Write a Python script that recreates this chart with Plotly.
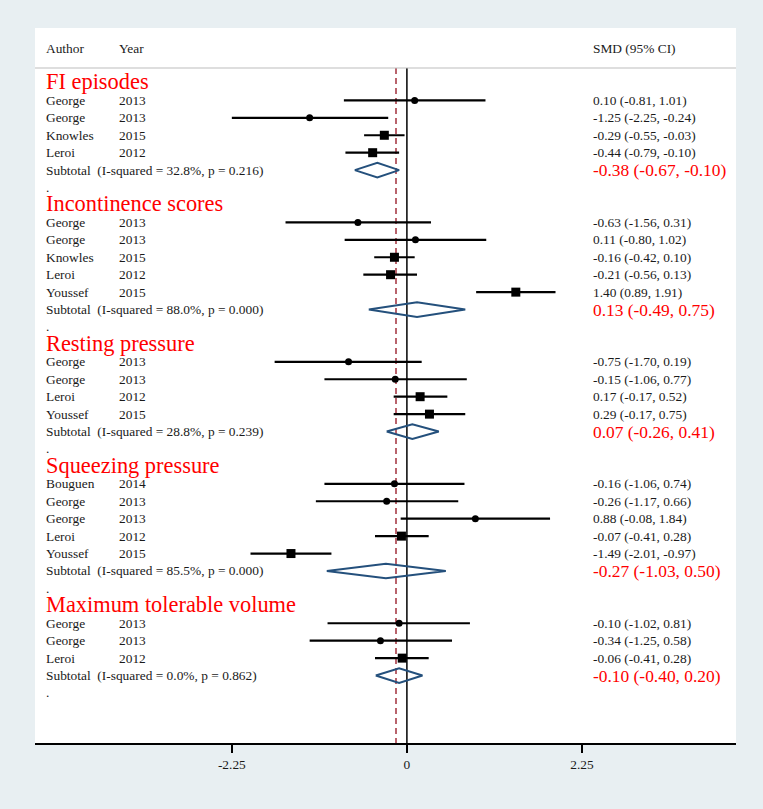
import plotly.graph_objects as go

# ---------------- data ----------------
groups = ["FI episodes", "Incontinence scores", "Resting pressure",
          "Squeezing pressure", "Maximum tolerable volume"]
authors = [
    ["George", "George", "Knowles", "Leroi"],
    ["George", "George", "Knowles", "Leroi", "Youssef"],
    ["George", "George", "Leroi", "Youssef"],
    ["Bouguen", "George", "George", "Leroi", "Youssef"],
    ["George", "George", "Leroi"],
]
years = [
    ["2013", "2013", "2015", "2012"],
    ["2013", "2013", "2015", "2012", "2015"],
    ["2013", "2013", "2012", "2015"],
    ["2014", "2013", "2013", "2012", "2015"],
    ["2013", "2013", "2012"],
]
smd = [
    [0.10, -1.25, -0.29, -0.44],
    [-0.63, 0.11, -0.16, -0.21, 1.40],
    [-0.75, -0.15, 0.17, 0.29],
    [-0.16, -0.26, 0.88, -0.07, -1.49],
    [-0.10, -0.34, -0.06],
]
ci_lo = [
    [-0.81, -2.25, -0.55, -0.79],
    [-1.56, -0.80, -0.42, -0.56, 0.89],
    [-1.70, -1.06, -0.17, -0.17],
    [-1.06, -1.17, -0.08, -0.41, -2.01],
    [-1.02, -1.25, -0.41],
]
ci_hi = [
    [1.01, -0.24, -0.03, -0.10],
    [0.31, 1.02, 0.10, 0.13, 1.91],
    [0.19, 0.77, 0.52, 0.75],
    [0.74, 0.66, 1.84, 0.28, -0.97],
    [0.81, 0.58, 0.28],
]
sub_smd = [-0.38, 0.13, 0.07, -0.27, -0.10]
sub_lo = [-0.67, -0.49, -0.26, -1.03, -0.40]
sub_hi = [-0.10, 0.75, 0.41, 0.50, 0.20]
i_squared = [32.8, 88.0, 28.8, 85.5, 0.0]
p_values = [0.216, 0.000, 0.239, 0.000, 0.862]
overall_smd = -0.14
x_ticks = [-2.25, 0, 2.25]
tick_labels = ["-2.25", "0", "2.25"]

# marker style per study (circle = small weight, square = larger weight)
marker_kind = [
    ["c", "c", "s", "s"],
    ["c", "c", "s", "s", "s"],
    ["c", "c", "s", "s"],
    ["c", "c", "c", "s", "s"],
    ["c", "c", "s"],
]

# ---------------- layout helpers ----------------
FONT = "Liberation Serif"
BG = "#e8eff2"
PL, PR = 35, 736          # plot area pixel edges
W = PR - PL


def px(xpix):
    return (xpix - PL) / W


X_RANGE = [-4.78, 4.23]
Y_TOP, Y_BOT = -3.155, 37.87

fig = go.Figure()
ann = []
line_x, line_y = [], []
circ_x, circ_y, sq_x, sq_y = [], [], [], []
dia_x, dia_y = [], []
H = 0.42
TXT = dict(family=FONT, size=13.4, color="#1a1a1a")
X_AUTH, X_YEAR, X_VAL = 44, 117, 591

r = 0
for g in range(len(groups)):
    ann.append(dict(x=px(X_AUTH), y=r - 0.06, xref="paper", yref="y", text=groups[g],
                    showarrow=False, xanchor="left", yanchor="middle",
                    font=dict(family=FONT, size=22.4, color="#ff0000")))
    r += 1
    for i in range(len(authors[g])):
        ann.append(dict(x=px(X_AUTH), y=r, xref="paper", yref="y", text=authors[g][i],
                        showarrow=False, xanchor="left", yanchor="middle", font=TXT))
        ann.append(dict(x=px(X_YEAR), y=r, xref="paper", yref="y", text=years[g][i],
                        showarrow=False, xanchor="left", yanchor="middle", font=TXT))
        ann.append(dict(x=px(X_VAL), y=r, xref="paper", yref="y",
                        text=f"{smd[g][i]:.2f} ({ci_lo[g][i]:.2f}, {ci_hi[g][i]:.2f})",
                        showarrow=False, xanchor="left", yanchor="middle", font=TXT))
        line_x += [ci_lo[g][i], ci_hi[g][i], None]
        line_y += [r, r, None]
        if marker_kind[g][i] == "c":
            circ_x.append(smd[g][i]); circ_y.append(r)
        else:
            sq_x.append(smd[g][i]); sq_y.append(r)
        r += 1
    # subtotal
    ann.append(dict(x=px(X_AUTH), y=r, xref="paper", yref="y",
                    text=f"Subtotal&nbsp;&nbsp;(I-squared = {i_squared[g]:.1f}%, p = {p_values[g]:.3f})",
                    showarrow=False, xanchor="left", yanchor="middle", font=TXT))
    ann.append(dict(x=px(X_VAL), y=r, xref="paper", yref="y",
                    text=f"{sub_smd[g]:.2f} ({sub_lo[g]:.2f}, {sub_hi[g]:.2f})",
                    showarrow=False, xanchor="left", yanchor="middle",
                    font=dict(family=FONT, size=17.4, color="#ff0000")))
    dia_x += [sub_lo[g], sub_smd[g], sub_hi[g], sub_smd[g], sub_lo[g], None]
    dia_y += [r, r - H, r, r + H, r, None]
    r += 1
    ann.append(dict(x=px(X_AUTH), y=r, xref="paper", yref="y", text=".",
                    showarrow=False, xanchor="left", yanchor="middle", font=TXT))
    r += 1

# header
for txt, xp in [("Author", X_AUTH), ("Year", X_YEAR), ("SMD (95% CI)", X_VAL)]:
    ann.append(dict(x=px(xp), y=-2.0, xref="paper", yref="y", text=txt,
                    showarrow=False, xanchor="left", yanchor="middle", font=TXT))

SEP = -0.86
# reference lines
fig.add_trace(go.Scatter(x=[0, 0], y=[SEP, Y_BOT], mode="lines",
                         line=dict(color="black", width=1.5), hoverinfo="skip"))
fig.add_trace(go.Scatter(x=[overall_smd, overall_smd], y=[SEP, Y_BOT], mode="lines",
                         line=dict(color="#a3303c", width=1.5, dash="6px,4px"),
                         hoverinfo="skip"))
# CI lines
fig.add_trace(go.Scatter(x=line_x, y=line_y, mode="lines",
                         line=dict(color="black", width=2.2), hoverinfo="skip"))
fig.add_trace(go.Scatter(x=circ_x, y=circ_y, mode="markers",
                         marker=dict(symbol="circle", size=7, color="black")))
fig.add_trace(go.Scatter(x=sq_x, y=sq_y, mode="markers",
                         marker=dict(symbol="square", size=9, color="black")))
fig.add_trace(go.Scatter(x=dia_x, y=dia_y, mode="lines",
                         line=dict(color="#24507c", width=2), hoverinfo="skip"))

shapes = [dict(type="line", xref="paper", yref="y", x0=0, x1=1, y0=SEP, y1=SEP,
               line=dict(color="#bdbdbd", width=1.2))]

fig.update_layout(
    width=763, height=809,
    margin=dict(l=PL, r=763 - PR, t=28, b=809 - 743),
    paper_bgcolor=BG,
    plot_bgcolor="white",
    showlegend=False,
    annotations=ann,
    shapes=shapes,
    xaxis=dict(range=X_RANGE, tickvals=x_ticks, ticktext=tick_labels,
               ticks="outside", ticklen=8, tickwidth=2, tickcolor="black",
               showline=True, linewidth=2, linecolor="black",
               showgrid=False, zeroline=False, fixedrange=True,
               tickfont=dict(family=FONT, size=13.4, color="#1a1a1a")),
    yaxis=dict(range=[Y_BOT, Y_TOP], visible=False, showgrid=False,
               zeroline=False, fixedrange=True),
)

fig.write_html(
    "out.html",
    config={"displayModeBar": False},
    post_script=("document.body.style.margin='0';"
                 "document.body.style.padding='0';"
                 "document.body.style.overflow='hidden';"
                 "document.body.style.background='" + BG + "';"),
)
